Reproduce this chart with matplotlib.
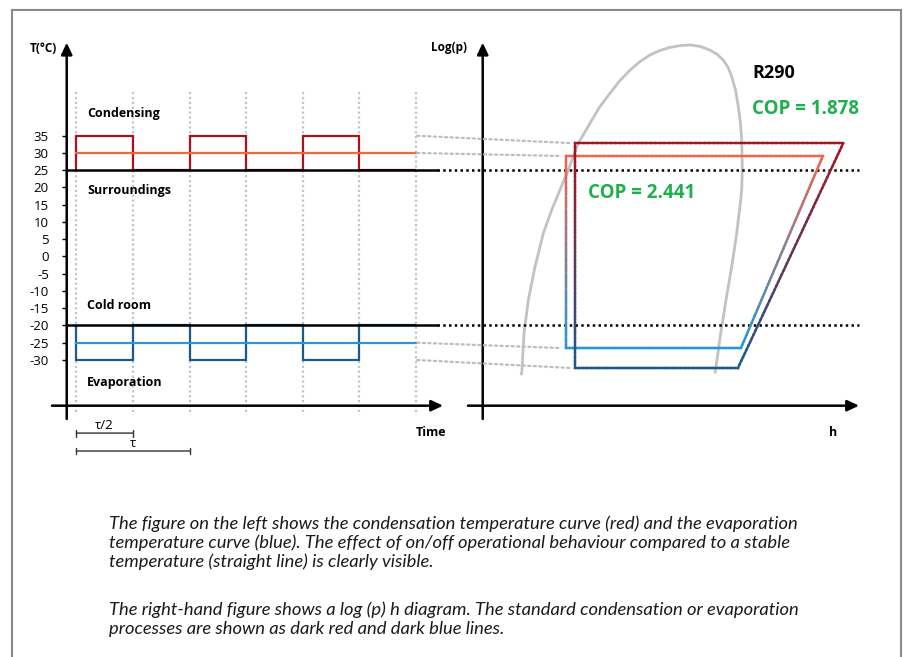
import numpy as np
import matplotlib
matplotlib.use("Agg")
import matplotlib.pyplot as plt
from matplotlib.collections import LineCollection
from matplotlib.patches import ConnectionPatch
from matplotlib.colors import to_rgb
from matplotlib.lines import Line2D

# ---------------- data ----------------
time_edges = [0, 1, 2, 3, 4, 5, 6]              # in units of tau/2
cond_onoff = [35, 25, 35, 25, 35, 25]            # on/off condensing temperature
evap_onoff = [-30, -20, -30, -20, -30, -20]      # on/off evaporation temperature
cond_stable = 30
evap_stable = -25
surroundings = 25
cold_room = -20
temp_ticks = [35, 30, 25, 20, 15, 10, 5, 0, -5, -10, -15, -20, -25, -30]

# log(p)-h diagram (h arbitrary units, log p expressed on the temperature scale)
onoff_cycle_h = [24.5, 95.8, 67.8, 24.5, 24.5]
onoff_cycle_p = [32.8, 32.8, -32.4, -32.4, 32.8]
stable_cycle_h = [22.1, 90.4, 68.6, 22.1, 22.1]
stable_cycle_p = [29.1, 29.1, -26.6, -26.6, 29.1]
dome_h = [10.1, 10.36, 10.98, 12.12, 13.90, 16.10, 18.34, 22.75, 25.40, 28.51,
          31.0, 33.83, 36.4, 39.14, 41.8, 44.45, 47.1, 49.77, 52.4, 55.08,
          57.8, 60.4, 62.3, 63.94, 65.2, 66.17, 67.2, 67.92, 68.5, 68.83,
          68.99, 68.83, 68.56, 67.50, 66.17, 64.66, 63.25, 61.73]
dome_p = [-34.4, -33.9, -22.3, -12.6, -3.0, 6.7, 13.5, 25.1, 32.8, 38.6,
          43.2, 47.3, 50.9, 54.0, 56.5, 58.4, 59.7, 60.6, 61.1, 61.3,
          60.9, 59.8, 58.6, 56.9, 54.8, 52.1, 48.2, 43.4, 38.6, 33.8,
          25.1, 19.3, 16.4, 6.7, -3.0, -12.6, -22.3, -33.9]
cop_onoff = "1.878"
cop_stable = "2.441"
refrigerant = "R290"

caption = [
    "The figure on the left shows the condensation temperature curve (red) and the evaporation",
    "temperature curve (blue). The effect of on/off operational behaviour compared to a stable",
    "temperature (straight line) is clearly visible.",
    "The right-hand figure shows a log (p) h diagram. The standard condensation or evaporation",
    "processes are shown as dark red and dark blue lines.",
]
caption_y = [524, 543, 562, 610, 629]

# ---------------- style ----------------
plt.rcParams['font.family'] = ['Open Sans', 'DejaVu Sans']
DARK_RED = '#A8141E'
LIGHT_RED = '#F2644C'
DARK_BLUE = '#1B5A8F'
LIGHT_BLUE = '#2598D6'
GREEN = '#1DB04B'
GRID_GRAY = '#C4C4C4'

W, H = 904, 657
fig = plt.figure(figsize=(W / 100, H / 100), dpi=100)


def fx(px):
    return px / W


def fy(py):
    return 1 - py / H


# frame
for xs, ys in [((12.5, 12.5), (10, 657)), ((12.5, 901), (10, 10)), ((901, 901), (10, 657))]:
    fig.add_artist(Line2D([fx(x) for x in xs], [fy(y) for y in ys], color='#8A8A8A', lw=1.5))

# ---------------- left chart ----------------
axL = fig.add_axes([fx(52), fy(419), fx(443) - fx(52), fy(42.7) - fy(419)])
axL.set_xlim(-0.43, 6.48)
axL.set_ylim(-47.12, 61.96)
for s in axL.spines.values():
    s.set_visible(False)
axL.spines['left'].set_position(('data', -0.17))
axL.set_xticks([])
axL.set_yticks(temp_ticks)
axL.set_yticklabels([str(t) for t in temp_ticks])
axL.tick_params(axis='y', direction='out', length=3.8, width=1, pad=9, labelsize=9.5)
axL.patch.set_alpha(0)

T_AXIS = -43.26
arrow = dict(arrowstyle='-|>,head_length=0.7,head_width=0.33', lw=1.8, color='black',
             shrinkA=0, shrinkB=0)
axL.annotate('', xy=(-0.17, 1), xycoords=axL.get_xaxis_transform(),
             xytext=(-0.17, 0), textcoords=axL.get_xaxis_transform(), arrowprops=arrow)
axL.annotate('', xy=(1, T_AXIS), xycoords=axL.get_yaxis_transform(),
             xytext=(0, T_AXIS), textcoords=axL.get_yaxis_transform(), arrowprops=arrow)

# vertical dotted time markers
for t in time_edges:
    axL.plot([t, t], [47.75, -45.96], color=GRID_GRAY, lw=1.6, ls=(0, (1, 1.2)), zorder=1)

axL.stairs(cond_onoff, time_edges[:len(cond_onoff) + 1], baseline=surroundings,
           color=DARK_RED, lw=1.6, zorder=3)
axL.stairs(evap_onoff, time_edges[:len(evap_onoff) + 1], baseline=cold_room,
           color=DARK_BLUE, lw=1.6, zorder=3)
axL.plot([time_edges[0], time_edges[-1]], [cond_stable] * 2, color=LIGHT_RED, lw=1.6, zorder=3)
axL.plot([time_edges[0], time_edges[-1]], [evap_stable] * 2, color=LIGHT_BLUE, lw=1.6, zorder=3)
axL.plot([-0.17, 6.37], [surroundings] * 2, color='black', lw=1.8, zorder=4)
axL.plot([-0.17, 6.37], [cold_room] * 2, color='black', lw=1.8, zorder=4)

lab = dict(fontsize=9, fontweight='bold', va='center', ha='left')
axL.text(0.19, 41.3, 'Condensing', **lab)
axL.text(0.19, 19.06, 'Surroundings', **lab)
axL.text(0.19, -14.3, 'Cold room', **lab)
axL.text(0.19, -36.6, 'Evaporation', **lab)

# tau markers
tau_kw = dict(arrowstyle='|-|,widthA=0.25,widthB=0.25', lw=1.0, color='#333333',
              shrinkA=0, shrinkB=0)
axL.annotate('', xy=(0, -51.2), xytext=(1, -51.2), arrowprops=tau_kw, annotation_clip=False)
axL.annotate('', xy=(0, -56.4), xytext=(2, -56.4), arrowprops=tau_kw, annotation_clip=False)
axL.text(0.5, -51.0, '\u03c4/2', fontsize=9.5, ha='center', va='bottom', clip_on=False)
axL.text(1.0, -56.2, '\u03c4', fontsize=9.5, ha='center', va='bottom', clip_on=False)

fig.text(fx(57), fy(48), 'T(\u00b0C)', fontsize=8.5, fontweight='bold', ha='right', va='center')
fig.text(fx(431), fy(432), 'Time', fontsize=9, fontweight='bold', ha='center', va='center')

# ---------------- right chart ----------------
axR = fig.add_axes([fx(468), fy(419), fx(859) - fx(468), fy(42.7) - fy(419)])
axR.set_xlim(-3.91, 100.0)
axR.set_ylim(-47.12, 61.96)
for s in axR.spines.values():
    s.set_visible(False)
axR.set_xticks([])
axR.set_yticks([])
axR.patch.set_alpha(0)
axR.annotate('', xy=(0, 1), xycoords=axR.get_xaxis_transform(),
             xytext=(0, 0), textcoords=axR.get_xaxis_transform(), arrowprops=arrow)
axR.annotate('', xy=(1, T_AXIS), xycoords=axR.get_yaxis_transform(),
             xytext=(0, T_AXIS), textcoords=axR.get_yaxis_transform(), arrowprops=arrow)

fig.text(fx(467), fy(48), 'Log(p)', fontsize=8.5, fontweight='bold', ha='right', va='center')
fig.text(fx(833), fy(432), 'h', fontsize=9, fontweight='bold', ha='center', va='center')

# dotted reference lines across both charts
for lvl in (surroundings, cold_room):
    axR.plot([-12.1, 100], [lvl, lvl], color='black', lw=1.8, ls=(0, (1, 1.3)),
             clip_on=False, zorder=2)

# saturation dome
axR.plot(dome_h, dome_p, color='#C2C2C2', lw=2.0, clip_on=False, zorder=1,
         solid_capstyle='butt', solid_joinstyle='round')


def gradient_cycle(ax, hs, ps, c_top, c_bot, lw):
    hs = np.asarray(hs, float)
    ps = np.asarray(ps, float)
    ptop, pbot = ps.max(), ps.min()
    segs, cols = [], []
    ct, cb = np.array(to_rgb(c_top)), np.array(to_rgb(c_bot))
    for i in range(len(hs) - 1):
        n = 60
        xs = np.linspace(hs[i], hs[i + 1], n + 1)
        ys = np.linspace(ps[i], ps[i + 1], n + 1)
        for j in range(n):
            segs.append([(xs[j], ys[j]), (xs[j + 1], ys[j + 1])])
            f = ((ys[j] + ys[j + 1]) / 2 - pbot) / (ptop - pbot)
            cols.append(cb + (ct - cb) * f)
    lc = LineCollection(segs, colors=cols, linewidths=lw, capstyle='projecting',
                        zorder=3)
    ax.add_collection(lc)


gradient_cycle(axR, stable_cycle_h, stable_cycle_p, LIGHT_RED, LIGHT_BLUE, 1.7)
gradient_cycle(axR, onoff_cycle_h, onoff_cycle_p, DARK_RED, DARK_BLUE, 1.7)

# gray dotted connectors from the left chart to the cycles
conns = [(cond_onoff[0], onoff_cycle_h[0], onoff_cycle_p[0]),
         (cond_stable, stable_cycle_h[0], stable_cycle_p[0]),
         (evap_stable, stable_cycle_h[0], stable_cycle_p[2]),
         (evap_onoff[0], onoff_cycle_h[0], onoff_cycle_p[2])]
for lv, hh, pp in conns:
    cp = ConnectionPatch(xyA=(time_edges[-1], lv), coordsA=axL.transData,
                         xyB=(hh, pp), coordsB=axR.transData,
                         color='#BDBDBD', lw=1.6, ls=(0, (1, 1.5)),
                         shrinkA=1, shrinkB=4, zorder=1)
    fig.add_artist(cp)

fig.text(fx(752), fy(73), refrigerant, fontsize=13, fontweight='bold', ha='left', va='center')
fig.text(fx(752), fy(109), 'COP = ' + cop_onoff, fontsize=13.5, fontweight='bold',
         color=GREEN, ha='left', va='center')
fig.text(fx(588), fy(193), 'COP = ' + cop_stable, fontsize=13.5, fontweight='bold',
         color=GREEN, ha='left', va='center')

# ---------------- caption ----------------
for line, yy in zip(caption, caption_y):
    fig.text(fx(109), fy(yy), line, fontsize=13.2, style='italic',
             family=['Lato', 'Open Sans', 'DejaVu Sans'],
             color='#1a1a1a', ha='left', va='center')

fig.savefig('out.png', dpi=100)
